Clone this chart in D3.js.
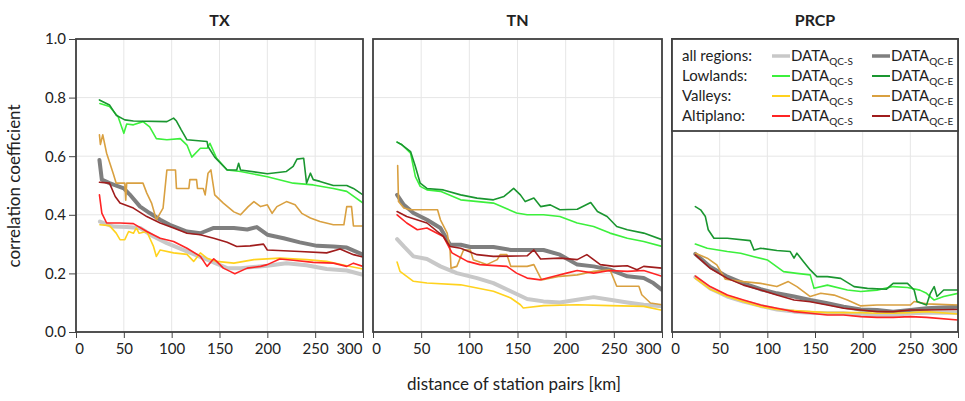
<!DOCTYPE html>
<html><head><meta charset="utf-8">
<script src="https://cdn.jsdelivr.net/npm/d3@7"></script>
<style>body{margin:0;background:#fff}svg{display:block}text{font-family:Lato,"Open Sans",sans-serif;fill:#222}</style>
</head><body><svg id="c" width="965" height="401"></svg>
<script>
// ---- data: [distance km, correlation] ----
const panels = ["TX", "TN", "PRCP"];
const xTicks = [0, 50, 100, 150, 200, 250, 300];
const yTicks = [0, 0.2, 0.4, 0.6, 0.8, 1.0];
const regions = ["all regions:", "Lowlands:", "Valleys:", "Altiplano:"];

const txAllS = [[25,0.377],[39,0.36],[53,0.358],[67,0.355],[81,0.326],[95,0.303],[116,0.275],[137,0.247],[158,0.218],[172,0.218],[200,0.226],[220,0.235],[241,0.228],[262,0.215],[283,0.21],[300,0.195]];
const txAllE = [[24.5,0.587],[27,0.52],[35,0.508],[50,0.49],[53,0.48],[56,0.47],[67,0.428],[77,0.406],[88,0.383],[98,0.366],[116,0.343],[130,0.337],[144,0.355],[165,0.355],[179,0.35],[189,0.358],[200,0.332],[217,0.32],[234,0.306],[252,0.294],[269,0.292],[283,0.288],[300,0.264]];
const txLowS = [[25,0.78],[35,0.77],[44,0.735],[50,0.678],[53,0.71],[60,0.707],[70,0.718],[77,0.70],[84,0.66],[95,0.656],[109,0.66],[116,0.638],[121,0.597],[130,0.627],[137,0.627],[140,0.644],[147,0.593],[158,0.553],[172,0.548],[200,0.53],[227,0.508],[248,0.502],[269,0.49],[283,0.48],[300,0.44]];
const txLowE = [[24.5,0.792],[35,0.775],[42,0.74],[51,0.724],[60,0.72],[95,0.718],[102,0.73],[105,0.72],[110,0.69],[116,0.656],[137,0.65],[138,0.633],[145,0.597],[158,0.553],[168,0.553],[170,0.576],[172,0.553],[200,0.54],[220,0.548],[227,0.565],[231,0.59],[238,0.593],[241,0.508],[245,0.542],[248,0.52],[255,0.514],[269,0.50],[283,0.50],[290,0.49],[300,0.468]];
const txValS = [[25,0.366],[35,0.363],[42,0.3375],[46,0.315],[51,0.315],[55,0.343],[60,0.337],[63,0.355],[66,0.337],[74,0.343],[81,0.292],[84,0.258],[88,0.28],[102,0.27],[116,0.265],[123,0.241],[130,0.27],[137,0.252],[147,0.241],[165,0.235],[186,0.247],[213,0.252],[241,0.247],[262,0.241],[283,0.226],[300,0.215]];
const txValE = [[24.5,0.673],[25.5,0.64],[28,0.673],[32,0.61],[39,0.54],[42,0.508],[51,0.508],[52,0.45],[53,0.508],[70,0.508],[74,0.474],[79,0.44],[84,0.383],[88,0.406],[91,0.423],[95,0.553],[104,0.553],[105,0.49],[118,0.49],[119,0.52],[126,0.52],[127,0.49],[133,0.49],[135,0.468],[138,0.542],[141,0.553],[145,0.468],[154,0.44],[165,0.41],[172,0.40],[180,0.428],[186,0.445],[193,0.428],[200,0.434],[205,0.405],[210,0.428],[220,0.445],[229,0.434],[236,0.405],[245,0.389],[255,0.377],[269,0.366],[280,0.366],[283,0.428],[288,0.428],[290,0.362],[300,0.362]];
const txAltS = [[24.5,0.468],[27,0.406],[32,0.372],[46,0.372],[60,0.37],[74,0.343],[88,0.32],[102,0.309],[116,0.286],[130,0.258],[137,0.224],[144,0.25],[147,0.241],[154,0.218],[161,0.207],[166,0.199],[179,0.218],[193,0.224],[200,0.23],[213,0.249],[227,0.245],[248,0.2375],[269,0.235],[283,0.224],[290,0.235],[300,0.224]];
const txAltE = [[24.5,0.511],[35,0.508],[41,0.4625],[46,0.44],[60,0.423],[74,0.394],[88,0.372],[102,0.355],[116,0.337],[130,0.332],[144,0.32],[158,0.306],[168,0.292],[182,0.294],[196,0.30],[200,0.28],[234,0.275],[262,0.27],[276,0.283],[290,0.264],[300,0.256]];

const tnAllS = [[25,0.317],[32,0.292],[42,0.258],[56,0.249],[70,0.224],[87,0.201],[108,0.184],[125,0.167],[143,0.139],[160,0.1125],[177,0.1045],[194,0.101],[212,0.11],[229,0.119],[246,0.11],[264,0.101],[281,0.093],[300,0.0875]];
const tnAllE = [[25,0.468],[32,0.434],[42,0.406],[56,0.383],[70,0.355],[80,0.298],[91,0.298],[101,0.29],[125,0.29],[143,0.28],[177,0.28],[194,0.264],[212,0.23],[229,0.224],[246,0.2125],[264,0.19],[281,0.184],[291,0.167],[300,0.144]];
const tnLowS = [[25,0.648],[30,0.639],[39,0.61],[44,0.53],[49,0.497],[56,0.485],[70,0.48],[91,0.451],[125,0.44],[149,0.406],[160,0.40],[177,0.40],[194,0.394],[212,0.372],[229,0.36],[246,0.3375],[264,0.32],[281,0.309],[300,0.292]];
const tnLowE = [[25,0.648],[30,0.639],[39,0.616],[44,0.565],[49,0.508],[56,0.49],[73,0.485],[91,0.468],[108,0.457],[125,0.451],[136,0.4625],[146,0.49],[153,0.468],[158,0.445],[167,0.457],[174,0.428],[184,0.434],[194,0.417],[212,0.419],[226,0.442],[233,0.411],[243,0.394],[253,0.36],[264,0.349],[281,0.3375],[300,0.315]];
const tnValS = [[25,0.239],[28,0.207],[35,0.19],[42,0.173],[56,0.167],[91,0.161],[108,0.15],[125,0.139],[143,0.116],[153,0.093],[156,0.082],[177,0.09],[212,0.093],[246,0.09],[281,0.0875],[300,0.074]];
const tnValE = [[25.6,0.568],[26.5,0.445],[32,0.423],[39,0.417],[61,0.417],[67,0.417],[70,0.383],[77,0.3375],[80,0.28],[81,0.218],[87,0.224],[94,0.28],[101,0.28],[104,0.247],[118,0.23],[129,0.247],[132,0.264],[139,0.264],[143,0.224],[160,0.224],[167,0.23],[175,0.178],[194,0.19],[212,0.195],[229,0.207],[246,0.2125],[253,0.156],[276,0.156],[279,0.127],[288,0.099],[300,0.093]];
const tnAltS = [[25,0.40],[35,0.372],[46,0.349],[56,0.355],[73,0.326],[82,0.27],[98,0.241],[111,0.23],[139,0.224],[149,0.201],[160,0.184],[174,0.178],[188,0.19],[201,0.201],[212,0.21],[229,0.201],[246,0.21],[264,0.207],[281,0.21],[300,0.19]];
const tnAltE = [[25,0.411],[35,0.394],[56,0.372],[73,0.326],[80,0.292],[91,0.286],[108,0.264],[125,0.258],[160,0.26],[167,0.28],[174,0.249],[194,0.252],[212,0.247],[222,0.264],[236,0.23],[250,0.224],[264,0.226],[274,0.2125],[281,0.224],[300,0.218]];

const prAllS = [[24.5,0.187],[40,0.149],[58,0.121],[75,0.1035],[93,0.089],[110,0.077],[128,0.0695],[145,0.066],[163,0.064],[180,0.064],[198,0.058],[215,0.058],[232,0.058],[250,0.064],[267,0.066],[300,0.066]];
const prAllE = [[24.5,0.2665],[40,0.223],[58,0.189],[75,0.166],[93,0.146],[110,0.132],[128,0.121],[145,0.109],[163,0.098],[180,0.0865],[198,0.077],[215,0.075],[232,0.0695],[250,0.075],[267,0.081],[300,0.0865]];
const prLowS = [[24.5,0.30],[37,0.286],[58,0.2745],[72,0.269],[86,0.257],[100,0.246],[117,0.206],[131,0.20],[145,0.195],[149,0.149],[163,0.16],[184,0.1435],[198,0.138],[215,0.143],[232,0.155],[247,0.152],[260,0.143],[267,0.132],[275,0.109],[285,0.121],[300,0.132]];
const prLowE = [[24.5,0.428],[30,0.417],[35,0.394],[38,0.349],[44,0.32],[58,0.32],[82,0.312],[86,0.28],[93,0.286],[110,0.278],[124,0.2745],[128,0.252],[131,0.269],[138,0.24],[145,0.212],[152,0.189],[163,0.189],[177,0.183],[191,0.155],[205,0.149],[225,0.146],[232,0.166],[247,0.166],[254,0.1435],[257,0.104],[267,0.092],[271,0.132],[275,0.155],[278,0.121],[285,0.1435],[300,0.1435]];
const prValS = [[24.5,0.183],[40,0.146],[58,0.121],[75,0.1035],[93,0.0865],[110,0.077],[128,0.073],[145,0.0695],[163,0.066],[180,0.066],[198,0.066],[215,0.064],[232,0.064],[250,0.066],[267,0.0695],[300,0.0615]];
const prValE = [[24.5,0.269],[37,0.252],[47,0.229],[56,0.18],[75,0.172],[93,0.166],[110,0.155],[122,0.172],[131,0.155],[145,0.121],[156,0.132],[170,0.126],[184,0.109],[198,0.089],[215,0.092],[250,0.092],[254,0.104],[267,0.096],[300,0.092]];
const prAltS = [[24.5,0.191],[40,0.155],[58,0.126],[75,0.109],[93,0.092],[110,0.081],[128,0.0695],[145,0.064],[163,0.058],[180,0.058],[198,0.0525],[215,0.05],[232,0.05],[250,0.0525],[267,0.05],[300,0.041]];
const prAltE = [[24.5,0.263],[40,0.2175],[58,0.183],[75,0.16],[93,0.1435],[110,0.126],[128,0.109],[145,0.1035],[163,0.092],[180,0.081],[198,0.075],[215,0.0695],[232,0.0695],[250,0.075],[267,0.075],[300,0.077]];

const panelData = [
  [txAllS, txAllE, txLowS, txLowE, txValS, txValE, txAltS, txAltE],
  [tnAllS, tnAllE, tnLowS, tnLowE, tnValS, tnValE, tnAltS, tnAltE],
  [prAllS, prAllE, prLowS, prLowE, prValS, prValE, prAltS, prAltE]
];
// ---- styles ----
const colors = ["#c8c8c8", "#7f7f7f", "#3cf03c", "#1a9630", "#ffd21e", "#d9a040", "#ff2424", "#a01c1c"];
const widths = [4, 4, 1.6, 1.6, 1.6, 1.6, 1.6, 1.6];
const drawOrder = [0, 1, 4, 5, 6, 7, 2, 3];

const svg = d3.select("#c");
const frames = [[76, 363], [373, 662], [672, 958]];
const yTop = 39, yBot = 332;
const y = d3.scaleLinear().domain([0, 1]).range([yBot, yTop]);

panels.forEach((name, pi) => {
  const [x0, x1] = frames[pi];
  const x = d3.scaleLinear().domain([0, 300]).range([x0, x1]);
  const g = svg.append("g");
  g.selectAll(".gx").data(xTicks).join("line")
    .attr("x1", d => x(d)).attr("x2", d => x(d)).attr("y1", yTop).attr("y2", yBot)
    .attr("stroke", "#e6e6e6").attr("stroke-width", 1);
  g.selectAll(".gy").data(yTicks).join("line")
    .attr("x1", x0).attr("x2", x1).attr("y1", d => y(d)).attr("y2", d => y(d))
    .attr("stroke", "#e6e6e6").attr("stroke-width", 1);
  const clipId = "clip" + pi;
  svg.append("clipPath").attr("id", clipId).append("rect")
    .attr("x", x0).attr("y", yTop).attr("width", x1 - x0).attr("height", yBot - yTop);
  const line = d3.line().x(d => x(d[0])).y(d => y(d[1]));
  const lg = g.append("g").attr("clip-path", `url(#${clipId})`);
  drawOrder.forEach(si => {
    lg.append("path").datum(panelData[pi][si]).attr("d", line)
      .attr("fill", "none").attr("stroke", colors[si]).attr("stroke-width", widths[si])
      .attr("stroke-linejoin", "round").attr("stroke-linecap", "round");
  });
  const xa = g.append("g").attr("transform", `translate(0,${yBot})`)
    .call(d3.axisBottom(x).tickValues(xTicks).tickSize(6).tickSizeOuter(0).tickFormat(d3.format("d")));
  xa.select(".domain").remove();
  xa.selectAll("line").attr("stroke", "#444");
  xa.selectAll("text").attr("font-size", 15).attr("dy", "0.85em").attr("fill", "#222")
    .attr("font-family", "Lato,'Open Sans',sans-serif")
    .attr("text-anchor", d => d === 300 ? "end" : "middle")
    .attr("dx", d => d === 300 ? -1 : (d === 0 ? 3 : 0));
  if (pi === 0) {
    const ya = g.append("g").attr("transform", `translate(${x0},0)`)
      .call(d3.axisLeft(y).tickValues(yTicks).tickSize(7).tickSizeOuter(0).tickFormat(d3.format(".1f")));
    ya.select(".domain").remove();
    ya.selectAll("line").attr("stroke", "#444");
    ya.selectAll("text").attr("font-size", 15).attr("fill", "#222")
      .attr("font-family", "Lato,'Open Sans',sans-serif");
  }
  g.append("rect").attr("x", x0).attr("y", yTop).attr("width", x1 - x0).attr("height", yBot - yTop)
    .attr("fill", "none").attr("stroke", "#404040").attr("stroke-width", 1.8);
  g.append("text").attr("x", (x0 + x1) / 2).attr("y", 26).attr("text-anchor", "middle")
    .attr("font-size", 16).attr("font-weight", "bold").text(name);
});

// legend (in PRCP panel)
const lx0 = frames[2][0], lx1 = frames[2][1], ly0 = yTop, ly1 = 131;
const leg = svg.append("g");
leg.append("rect").attr("x", lx0).attr("y", ly0).attr("width", lx1 - lx0).attr("height", ly1 - ly0)
  .attr("fill", "#fff").attr("stroke", "#404040").attr("stroke-width", 1.8);
regions.forEach((r, ri) => {
  const cy = 56 + ri * 20;
  leg.append("text").attr("x", 682).attr("y", cy + 5).attr("font-size", 15).text(r);
  [0, 1].forEach(k => {
    const si = ri * 2 + k;
    const sx = k === 0 ? 772 : 872;
    leg.append("line").attr("x1", sx).attr("x2", sx + 18).attr("y1", cy).attr("y2", cy)
      .attr("stroke", colors[si]).attr("stroke-width", ri === 0 ? 3.5 : 2);
    const t = leg.append("text").attr("x", sx + 19).attr("y", cy + 5).attr("font-size", 15);
    t.append("tspan").text("DATA");
    t.append("tspan").attr("font-size", 10).attr("dy", 4).text(k === 0 ? "QC-S" : "QC-E");
  });
});

svg.append("text").attr("transform", "translate(20,186) rotate(-90)").attr("text-anchor", "middle")
  .attr("font-size", 17).text("correlation coefficient");
svg.append("text").attr("x", 514).attr("y", 390).attr("text-anchor", "middle")
  .attr("font-size", 17).text("distance of station pairs [km]");
</script></body></html>
